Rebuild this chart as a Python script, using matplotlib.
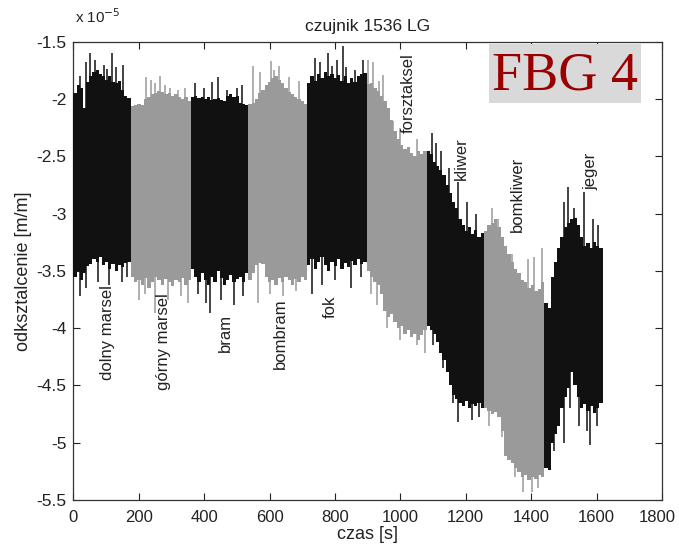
import numpy as np
import matplotlib
matplotlib.use("Agg")
import matplotlib.pyplot as plt
import matplotlib.transforms as mtransforms
from matplotlib.patches import Rectangle

plt.rcParams['font.family'] = ['Liberation Sans', 'DejaVu Sans']

# --- data (strain in units of 1e-5 m/m) ---
seg_names = ["dolny marsel", "górny marsel", "bram", "bombram", "fok",
             "forsztaksel", "kliwer", "bomkliwer", "jeger"]
seg_bounds = [0, 175, 360, 535, 715, 897, 1080, 1255, 1440, 1618]
seg_dark = [True, False, True, False, True, False, True, False, True]

hi1 = [-1.95, -1.88, -1.90, -2.08, -1.85, -1.80, -1.76, -1.75, -1.78, -1.80, -1.83, -1.80, -1.85, -1.86, -1.84, -1.92, -1.97, -1.99]
lo1 = [-3.55, -3.50, -3.58, -3.52, -3.46, -3.44, -3.40, -3.42, -3.38, -3.45, -3.42, -3.48, -3.44, -3.50, -3.45, -3.47, -3.43, -3.42]
hi2 = [-2.06, -2.05, -2.04, -2.05, -2.00, -1.98, -1.96, -1.95, -1.93, -1.94, -1.96, -1.95, -1.97, -1.96, -1.98, -2.00, -1.98, -2.02]
lo2 = [-3.55, -3.60, -3.58, -3.62, -3.56, -3.65, -3.60, -3.55, -3.58, -3.62, -3.57, -3.60, -3.63, -3.58, -3.60, -3.56, -3.62, -3.58]
hi3 = [-1.98, -1.97, -1.99, -1.98, -2.00, -1.98, -2.01, -2.00, -1.99, -2.01, -2.02, -1.97, -1.96, -1.98, -1.97, -2.03, -2.04, -2.05]
lo3 = [-3.48, -3.55, -3.60, -3.52, -3.58, -3.62, -3.55, -3.60, -3.50, -3.56, -3.62, -3.58, -3.54, -3.60, -3.57, -3.55, -3.60, -3.52]
hi4 = [-2.04, -2.03, -2.00, -1.95, -1.92, -1.88, -1.85, -1.82, -1.80, -1.83, -1.86, -1.90, -1.94, -1.96, -1.98, -2.00, -2.02, -2.04]
lo4 = [-3.58, -3.52, -3.45, -3.43, -3.44, -3.55, -3.60, -3.58, -3.62, -3.56, -3.60, -3.55, -3.58, -3.62, -3.57, -3.60, -3.55, -3.58]
hi5 = [-1.86, -1.80, -1.84, -1.78, -1.82, -1.76, -1.80, -1.78, -1.82, -1.79, -1.84, -1.80, -1.86, -1.82, -1.85, -1.80, -1.78, -1.77]
lo5 = [-3.45, -3.40, -3.48, -3.42, -3.38, -3.45, -3.50, -3.42, -3.46, -3.40, -3.48, -3.43, -3.47, -3.41, -3.45, -3.40, -3.44, -3.42]
hi6 = [-1.87, -1.86, -1.90, -1.93, -1.97, -2.02, -2.08, -2.18, -2.28, -2.35, -2.40, -2.44, -2.42, -2.47, -2.50, -2.45, -2.48, -2.45]
lo6 = [-3.50, -3.55, -3.60, -3.62, -3.70, -3.85, -3.90, -3.88, -3.95, -4.00, -3.98, -4.05, -4.02, -4.08, -4.05, -4.10, -4.06, -4.02]
hi7 = [-2.45, -2.48, -2.55, -2.58, -2.62, -2.66, -2.75, -2.82, -2.90, -2.95, -3.05, -3.10, -3.15, -3.12, -3.18, -3.14, -3.20, -3.17]
lo7 = [-3.98, -4.02, -4.05, -4.12, -4.22, -4.28, -4.38, -4.50, -4.58, -4.62, -4.65, -4.68, -4.64, -4.70, -4.66, -4.68, -4.65, -4.70]
hi8 = [-3.15, -3.10, -3.08, -3.05, -3.12, -3.20, -3.28, -3.35, -3.42, -3.48, -3.52, -3.58, -3.60, -3.65, -3.62, -3.68, -3.66, -3.60]
lo8 = [-4.70, -4.72, -4.75, -4.73, -4.78, -4.90, -5.12, -5.15, -5.18, -5.22, -5.26, -5.30, -5.28, -5.33, -5.30, -5.32, -5.28, -5.30]
hi9 = [-3.78, -3.82, -3.55, -3.42, -3.30, -3.20, -3.12, -3.08, -3.05, -3.04, -3.10, -3.20, -3.28, -3.26, -3.30, -3.25, -3.28, -3.30]
lo9 = [-5.22, -5.24, -5.00, -4.92, -4.85, -4.70, -4.60, -4.52, -4.38, -4.50, -4.60, -4.70, -4.66, -4.72, -4.68, -4.74, -4.70, -4.65]

seg_hi = [hi1, hi2, hi3, hi4, hi5, hi6, hi7, hi8, hi9]
seg_lo = [lo1, lo2, lo3, lo4, lo5, lo6, lo7, lo8, lo9]

up_t = [20, 40, 51, 66, 94, 104, 117, 130, 152,
        222, 237, 250, 265, 280, 296, 320, 342,
        372, 400, 423, 443, 470, 500, 515,
        549, 570, 605, 615, 630, 660, 690,
        740, 755, 780, 790, 805, 824, 835, 860, 885,
        900, 915, 935, 948, 978, 1000, 1050,
        1096, 1110, 1125, 1150, 1175, 1205, 1230,
        1280, 1300, 1340, 1390, 1410, 1432,
        1500, 1513, 1530, 1561, 1590, 1605]
up_v = [-1.80, -1.68, -1.60, -1.66, -1.70, -1.74, -1.60, -1.72, -1.70,
        -1.81, -1.83, -1.86, -1.80, -1.88, -1.90, -1.92, -1.90,
        -1.86, -1.90, -1.85, -1.81, -1.92, -1.90, -1.88,
        -1.71, -1.76, -1.67, -1.75, -1.71, -1.81, -1.84,
        -1.64, -1.68, -1.60, -1.71, -1.66, -1.54, -1.72, -1.75, -1.66,
        -1.66, -1.68, -1.84, -1.79, -2.19, -2.25, -2.35,
        -2.30, -2.38, -2.45, -2.60, -2.72, -2.90, -3.00,
        -2.95, -3.05, -3.35, -3.40, -3.38, -3.30,
        -2.90, -2.77, -2.95, -2.81, -3.05, -3.10]

dn_t = [20, 40, 75, 110, 150, 165,
        200, 220, 250, 290, 330, 350,
        380, 405, 418, 450, 490, 520,
        564, 600, 640, 680,
        730, 760, 800, 850, 880,
        910, 930, 960, 1000, 1050, 1075,
        1100, 1130, 1160, 1175, 1220, 1240,
        1270, 1310, 1350, 1376, 1403, 1420,
        1470, 1500, 1520, 1545, 1570, 1580, 1600]
dn_v = [-3.72, -3.65, -3.60, -3.62, -3.60, -3.55,
        -3.75, -3.70, -3.87, -3.75, -3.72, -3.78,
        -3.70, -3.78, -3.87, -3.75, -3.80, -3.72,
        -3.78, -3.70, -3.72, -3.68,
        -3.70, -3.62, -3.58, -3.65, -3.55,
        -3.70, -3.80, -4.00, -4.10, -4.15, -4.22,
        -4.15, -4.35, -4.65, -4.82, -4.80, -4.78,
        -4.85, -4.95, -5.30, -5.43, -5.43, -5.40,
        -5.07, -5.00, -4.70, -4.85, -4.90, -5.02, -4.85]

label_t = [103, 275, 465, 632, 785, 1024, 1186, 1358, 1584]
label_v = [-4.45, -4.54, -4.21, -4.36, -3.91, -2.30, -2.71, -3.16, -2.79]

xticks = list(range(0, 1801, 200))
yticks = [-5.5, -5, -4.5, -4, -3.5, -3, -2.5, -2, -1.5]
ytick_labels = ["-5.5", "-5", "-4.5", "-4", "-3.5", "-3", "-2.5", "-2", "-1.5"]

DARK = "#111111"
LIGHT = "#9a9a9a"
TXT = "#222222"

fig = plt.figure(figsize=(6.79, 5.5), dpi=100)
ax = fig.add_axes([0.108, 0.091, 0.867, 0.833])

def seg_of(t):
    for i in range(len(seg_bounds) - 1):
        if seg_bounds[i] <= t < seg_bounds[i + 1]:
            return i
    return len(seg_bounds) - 2

# spikes (drawn first, band covers inner part)
for t, v in zip(up_t + dn_t, up_v + dn_v):
    i = seg_of(t)
    mid = 0.5 * (np.mean(seg_hi[i]) + np.mean(seg_lo[i]))
    ax.vlines(t, mid, v, color=DARK if seg_dark[i] else LIGHT, lw=1.1, zorder=2)

for i in range(len(seg_hi)):
    hi = np.array(seg_hi[i])
    lo = np.array(seg_lo[i])
    edges = np.linspace(seg_bounds[i], seg_bounds[i + 1], len(hi) + 1)
    ax.fill_between(edges, np.r_[hi, hi[-1]], np.r_[lo, lo[-1]], step='post',
                    color=DARK if seg_dark[i] else LIGHT, lw=0, zorder=3)

for name, t, v in zip(seg_names, label_t, label_v):
    ax.text(t, v, name, rotation=90, ha='center', va='bottom', fontsize=12,
            color=TXT, zorder=5)

ax.set_xlim(0, 1800)
ax.set_ylim(-5.5, -1.5)
ax.set_xticks(xticks)
ax.set_yticks(yticks)
ax.set_yticklabels(ytick_labels)
ax.tick_params(direction='in', top=True, right=True, length=5, width=0.8,
               labelsize=12.5, colors=TXT, pad=5)
ax.tick_params(axis='x', pad=7, labelsize=12)
for s in ax.spines.values():
    s.set_color("#333333")
    s.set_linewidth(0.9)

# keep the last x tick label inside the figure
fig.canvas.draw()
last = ax.get_xticklabels()[-1]
last.set_transform(last.get_transform() +
                   mtransforms.ScaledTranslation(-5 / 100, 0, fig.dpi_scale_trans))

ax.set_title("czujnik 1536 LG", fontsize=12.5, color=TXT, pad=8)
ax.set_xlabel("czas [s]", fontsize=13, color=TXT, labelpad=1)
ax.set_ylabel("odksztalcenie [m/m]", fontsize=13, color=TXT, labelpad=3)

fig.text(0.110, 0.952, r"x 10$^{-5}$", fontsize=11, color=TXT, ha='left', va='bottom')

fig.add_artist(Rectangle((489 / 679, 1 - 103 / 550), 152 / 679, 59 / 550,
                         transform=fig.transFigure, facecolor="#d9d9d9",
                         edgecolor='none', zorder=4))
fig.text(565 / 679, 1 - 90 / 550, "FBG 4", family=['Liberation Serif', 'DejaVu Serif'],
         fontsize=39, color="#990000", ha='center', va='baseline', zorder=5)

fig.savefig("out.png", dpi=100)
